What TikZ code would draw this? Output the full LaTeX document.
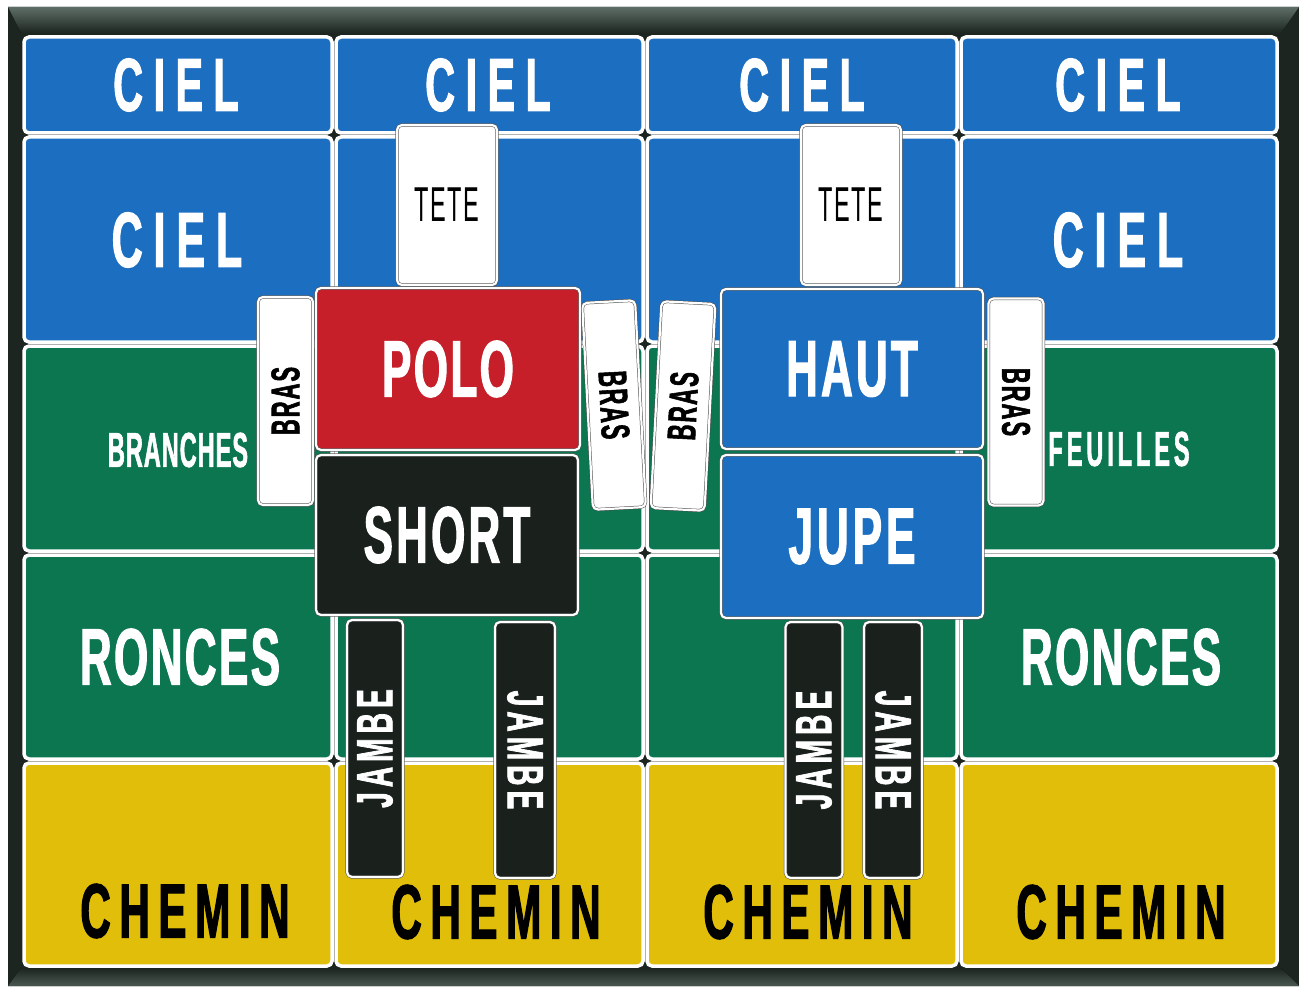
\documentclass[tikz,border=0pt]{standalone}
\usepackage{fontspec}
\newfontfamily\signfont[FakeStretch=0.55, BoldFeatures={FakeBold=1.4}]{Liberation Sans}
\newfontfamily\narrowfont[FakeStretch=0.48, BoldFeatures={FakeBold=1.2}]{Liberation Sans}
\newcommand\sgn[3]{{\fontsize{#1pt}{#1pt}\signfont\bfseries\addfontfeature{LetterSpace=#2}#3}}
\newcommand\nrwb[3]{{\fontsize{#1pt}{#1pt}\narrowfont\bfseries\addfontfeature{LetterSpace=#2}#3}}
\newcommand\nrwm[3]{{\fontsize{#1pt}{#1pt}\narrowfont\addfontfeature{LetterSpace=#2}#3}}
\definecolor{skyblue}{HTML}{1B6EC0}
\definecolor{boardgreen}{HTML}{0B7650}
\definecolor{pathyellow}{HTML}{E0BE0A}
\definecolor{polored}{HTML}{C61F2A}
\definecolor{piecedark}{HTML}{1A211D}
\definecolor{framedark}{HTML}{1C2520}
\definecolor{framelight}{HTML}{5E6E66}
\tikzset{
  board/.style={draw=white, line width=3.5pt, rounded corners=5pt, inner sep=0pt},
  piece/.style={draw=black!70, double=white, double distance=2.2pt, line width=0.5pt, rounded corners=5pt, inner sep=0pt},
  wtxt/.style={inner sep=0pt, text=white},
  btxt/.style={inner sep=0pt, text=black},
}
\begin{document}
\begin{tikzpicture}[x=1pt,y=-1pt]
\useasboundingbox (0,0) rectangle (1311,992);
\fill[white] (0,0) rectangle (1311,992);
% frame
\fill[framedark] (8,7) rectangle (1299,986);
\fill[top color=framelight, bottom color=framedark] (8,7) -- (1299,7) -- (1281,33) -- (21,33) -- cycle;
\fill[top color=framedark, bottom color=framelight!70!framedark] (21,968) -- (1281,968) -- (1299,986) -- (8,986) -- cycle;
% row 1
\node[board, fill=skyblue, minimum width=308, minimum height=96] (b11) at (178,85) {};
\node[board, fill=skyblue, minimum width=307, minimum height=96] (b12) at (489.5,85) {};
\node[board, fill=skyblue, minimum width=310, minimum height=96] (b13) at (802,85) {};
\node[board, fill=skyblue, minimum width=316, minimum height=96] (b14) at (1119,85) {};
% row 2
\node[board, fill=skyblue, minimum width=308, minimum height=205] (b21) at (178,239.5) {};
\node[board, fill=skyblue, minimum width=307, minimum height=205] (b22) at (489.5,239.5) {};
\node[board, fill=skyblue, minimum width=310, minimum height=205] (b23) at (802,239.5) {};
\node[board, fill=skyblue, minimum width=316, minimum height=205] (b24) at (1119,239.5) {};
% row 3
\node[board, fill=boardgreen, minimum width=308, minimum height=205] (b31) at (178,448.5) {};
\node[board, fill=boardgreen, minimum width=307, minimum height=205] (b32) at (489.5,448.5) {};
\node[board, fill=boardgreen, minimum width=310, minimum height=205] (b33) at (802,448.5) {};
\node[board, fill=boardgreen, minimum width=316, minimum height=205] (b34) at (1119,448.5) {};
% row 4
\node[board, fill=boardgreen, minimum width=308, minimum height=204] (b41) at (178,657) {};
\node[board, fill=boardgreen, minimum width=307, minimum height=204] (b42) at (489.5,657) {};
\node[board, fill=boardgreen, minimum width=310, minimum height=204] (b43) at (802,657) {};
\node[board, fill=boardgreen, minimum width=316, minimum height=204] (b44) at (1119,657) {};
% row 5
\node[board, fill=pathyellow, minimum width=308, minimum height=203] (b51) at (178,864.5) {};
\node[board, fill=pathyellow, minimum width=307, minimum height=203] (b52) at (489.5,864.5) {};
\node[board, fill=pathyellow, minimum width=310, minimum height=203] (b53) at (802,864.5) {};
\node[board, fill=pathyellow, minimum width=316, minimum height=203] (b54) at (1119,864.5) {};
% board texts
\node[wtxt] (t11) at (176,85) {\sgn{75}{14}{CIEL}};
\node[wtxt] (t12) at (488,85) {\sgn{75}{14}{CIEL}};
\node[wtxt] (t13) at (802,85) {\sgn{75}{14}{CIEL}};
\node[wtxt] (t14) at (1118,85) {\sgn{75}{14}{CIEL}};
\node[wtxt] (t21) at (177,240) {\sgn{78}{14}{CIEL}};
\node[wtxt] (t24) at (1118,240) {\sgn{78}{14}{CIEL}};
\node[wtxt] (t31) at (178,450) {\nrwb{49}{2}{BRANCHES}};
\node[wtxt] (t34) at (1119,449) {\nrwb{49}{8}{FEUILLES}};
\node[wtxt] (t41) at (180,657) {\sgn{80}{3}{RONCES}};
\node[wtxt] (t44) at (1121,657) {\sgn{80}{3}{RONCES}};
\node[btxt] (t51) at (185,911) {\sgn{77}{11}{CHEMIN}};
\node[btxt] (t52) at (496,912) {\sgn{77}{11}{CHEMIN}};
\node[btxt] (t53) at (808,912) {\sgn{77}{11}{CHEMIN}};
\node[btxt] (t54) at (1121,912) {\sgn{77}{11}{CHEMIN}};
% left figure
\node[piece, fill=white, minimum width=100, minimum height=160] (teteL) at (447,205) {\nrwm{49}{3}{TETE}};
\node[piece, fill=white, minimum width=208, minimum height=55, rotate=90] (brasLL) at (285.5,401) {\sgn{40}{5}{BRAS}};
\node[piece, fill=white, minimum width=207, minimum height=53, rotate=-87] (brasLR) at (614,405) {\sgn{40}{5}{BRAS}};
\node[piece, fill=polored, minimum width=264, minimum height=162, text=white] (polo) at (448,369) {\sgn{80}{3}{POLO}};
\node[piece, fill=piecedark, minimum width=262, minimum height=160, text=white] (short) at (447,535) {\sgn{80}{4}{SHORT}};
\node[piece, fill=piecedark, minimum width=257, minimum height=56, rotate=90, text=white] (jambeLL) at (375,748.5) {\sgn{51}{10}{JAMBE}};
\node[piece, fill=piecedark, minimum width=256, minimum height=60, rotate=-90, text=white] (jambeLR) at (525,750) {\sgn{51}{10}{JAMBE}};
% right figure
\node[piece, fill=white, minimum width=100, minimum height=160] (teteR) at (851,205) {\nrwm{49}{3}{TETE}};
\node[piece, fill=white, minimum width=207, minimum height=54, rotate=87] (brasRL) at (683,406) {\sgn{40}{5}{BRAS}};
\node[piece, fill=white, minimum width=207, minimum height=55, rotate=-90] (brasRR) at (1016,402) {\sgn{40}{5}{BRAS}};
\node[piece, fill=skyblue, minimum width=262, minimum height=160, text=white] (haut) at (852,369) {\sgn{80}{4}{HAUT}};
\node[piece, fill=skyblue, minimum width=262, minimum height=163, text=white] (jupe) at (852,536.5) {\sgn{80}{5}{JUPE}};
\node[piece, fill=piecedark, minimum width=256, minimum height=57, rotate=90, text=white] (jambeRL) at (814,750) {\sgn{51}{10}{JAMBE}};
\node[piece, fill=piecedark, minimum width=256, minimum height=58, rotate=-90, text=white] (jambeRR) at (893,750) {\sgn{51}{10}{JAMBE}};
\end{tikzpicture}
\end{document}
